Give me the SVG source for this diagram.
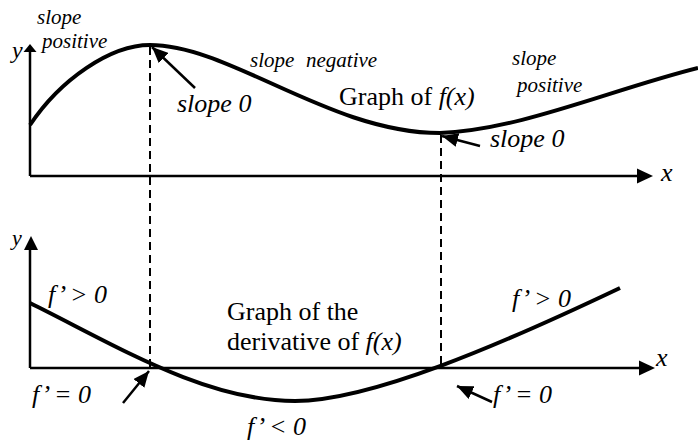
<svg xmlns="http://www.w3.org/2000/svg" width="698" height="443" viewBox="0 0 698 443">
<style>
.ax{stroke:#000;stroke-width:2.5;fill:none}
.hd{fill:#000}
.cv{stroke:#000;stroke-width:4;fill:none}
.ds{stroke:#000;stroke-width:2;stroke-dasharray:8,5;fill:none}
.pt{stroke:#000;stroke-width:2.5;fill:none;marker-end:url(#ah)}
.lb{font-family:"Liberation Serif","Times New Roman",serif;fill:#000}
.i{font-style:italic}
.s{font-size:21px}
.b{font-size:26px}
</style>
<defs>
<marker id="ah" markerUnits="userSpaceOnUse" markerWidth="18" markerHeight="14" refX="16" refY="7" orient="auto">
<path d="M0,0 L16,7 L0,14 Z" fill="#000"/>
</marker>
</defs>
<rect width="698" height="443" fill="#fff"/>
<g id="top-axes">
<line class="ax" x1="30" y1="176" x2="30" y2="50"/>
<path class="hd" d="M23.5,52 L30,44 L36.5,52 Z"/>
<line class="ax" x1="30" y1="176" x2="640" y2="176"/>
<path class="hd" d="M637,168.5 L653,176 L637,183.5 Z"/>
</g>
<g id="bottom-axes">
<line class="ax" x1="30" y1="368" x2="30" y2="244"/>
<path class="hd" d="M24,250 L31,236 L38,250 Z"/>
<line class="ax" x1="30" y1="368" x2="642" y2="368"/>
<path class="hd" d="M639,360.5 L655,368 L639,375.5 Z"/>
</g>
<g id="dashes">
<line class="ds" x1="150" y1="47" x2="150" y2="367"/>
<line class="ds" x1="441" y1="135" x2="441" y2="364"/>
</g>
<g id="graph-f">
<path class="cv" d="M30,125 C60,80 110,45 150,45 C230,45 330,133 440,133 C520,130 610,90 698,68"/>
</g>
<g id="graph-derivative">
<path class="cv" d="M30,303 C115,345 205,401 295,401 C370,401 500,345 620,288"/>
</g>
<g id="connectors">
<line class="pt" x1="195" y1="88" x2="152" y2="47"/>
<line class="pt" x1="480" y1="146" x2="442" y2="136"/>
<line class="pt" x1="123" y1="403" x2="149" y2="371"/>
<line class="pt" x1="492" y1="402" x2="457" y2="386"/>
</g>
<g id="labels" class="lb">
<text class="i s" x="37" y="24">slope</text>
<text class="i s" x="42" y="48">positive</text>
<text class="i" font-size="24" x="12" y="58">y</text>
<text class="i b" x="177" y="112">slope 0</text>
<text class="i s" x="250" y="67">slope</text>
<text class="i s" x="306" y="67">negative</text>
<text class="b" x="339" y="105">Graph of <tspan class="i">f(x)</tspan></text>
<text class="i s" x="512" y="65">slope</text>
<text class="i s" x="517" y="92">positive</text>
<text class="i b" x="490" y="147">slope 0</text>
<text class="i b" x="661" y="181">x</text>
<text class="i" font-size="22" x="12" y="245">y</text>
<text class="i b" x="48" y="303">f&#8217; &gt; 0</text>
<text class="b" x="227" y="320">Graph of the</text>
<text class="b" x="227" y="350">derivative of <tspan class="i">f(x)</tspan></text>
<text class="i b" x="32" y="403">f&#8217; = 0</text>
<text class="i b" x="247" y="435">f&#8217; &lt; 0</text>
<text class="i b" x="512" y="307">f&#8217; &gt; 0</text>
<text class="i b" x="493" y="403">f&#8217; = 0</text>
<text class="i b" x="656" y="366">x</text>
</g>
</svg>
